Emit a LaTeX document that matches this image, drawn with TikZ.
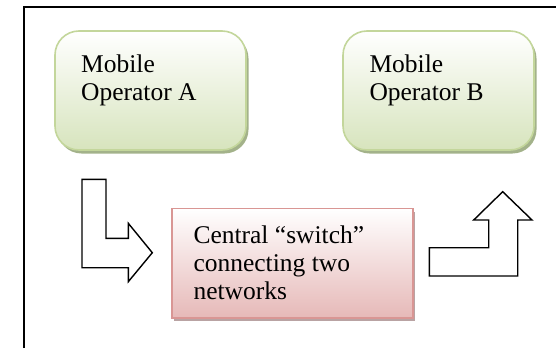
\documentclass[tikz,border=0pt]{standalone}
\usepackage{fontspec}
\setmainfont{Liberation Serif}
\usetikzlibrary{shadows}
\definecolor{grnfill}{HTML}{D7E4BD}
\definecolor{grnedge}{HTML}{C3D69B}
\definecolor{grnshadow}{HTML}{A3B28A}
\definecolor{redfill}{HTML}{E6B9B8}
\definecolor{rededge}{HTML}{D99694}
\definecolor{redshadow}{HTML}{B9A3A3}
\tikzset{
  opbox/.style={draw=grnedge, line width=1.6pt, rounded corners=24pt,
    top color=white, bottom color=grnfill,
    drop shadow={shadow xshift=2.5pt, shadow yshift=-3.5pt, fill=grnshadow, opacity=1}},
  swbox/.style={draw=rededge, line width=1.6pt,
    top color=white, bottom color=redfill,
    drop shadow={shadow xshift=2.5pt, shadow yshift=-3.5pt, fill=redshadow, opacity=1}},
  lbl/.style={inner sep=0pt, anchor=base west, align=left,
    font=\fontsize{25.5}{27.8}\selectfont},
  bentarrow/.style={draw=black, line width=1.4pt, fill=white, line join=miter},
  frameline/.style={draw=black, line width=2pt}
}
\begin{document}
\begin{tikzpicture}[x=1pt,y=-1pt]
\useasboundingbox (0,0) rectangle (556,348);
% frame
\draw[frameline] (23.8,348) -- (23.8,7.2) -- (556,7.2);
% boxes
\path[opbox] (55,31) rectangle (246,150);
\node[lbl] (labA) at (81,100) {Mobile\\Operator A};
\path[opbox] (343,31) rectangle (534,150);
\node[lbl] (labB) at (369.3,100) {Mobile\\Operator B};
\path[swbox] (171.7,208.3) rectangle (412.7,317.7);
\node[lbl] (labC) at (193.3,299) {Central “switch”\\connecting two\\networks};
% arrows
\draw[bentarrow] (82,179.3) -- (106,179.3) -- (106,238.3) -- (128.3,238.3) -- (128.3,223.3) -- (152.3,252.7) -- (128.3,281.7) -- (128.3,267.7) -- (82,267.7) -- cycle;
\draw[bentarrow] (429.3,247.7) -- (488.7,247.7) -- (488.7,220) -- (473.7,220) -- (502.7,191.7) -- (532,220) -- (517.7,220) -- (517.7,276) -- (429.3,276) -- cycle;
\end{tikzpicture}
\end{document}
